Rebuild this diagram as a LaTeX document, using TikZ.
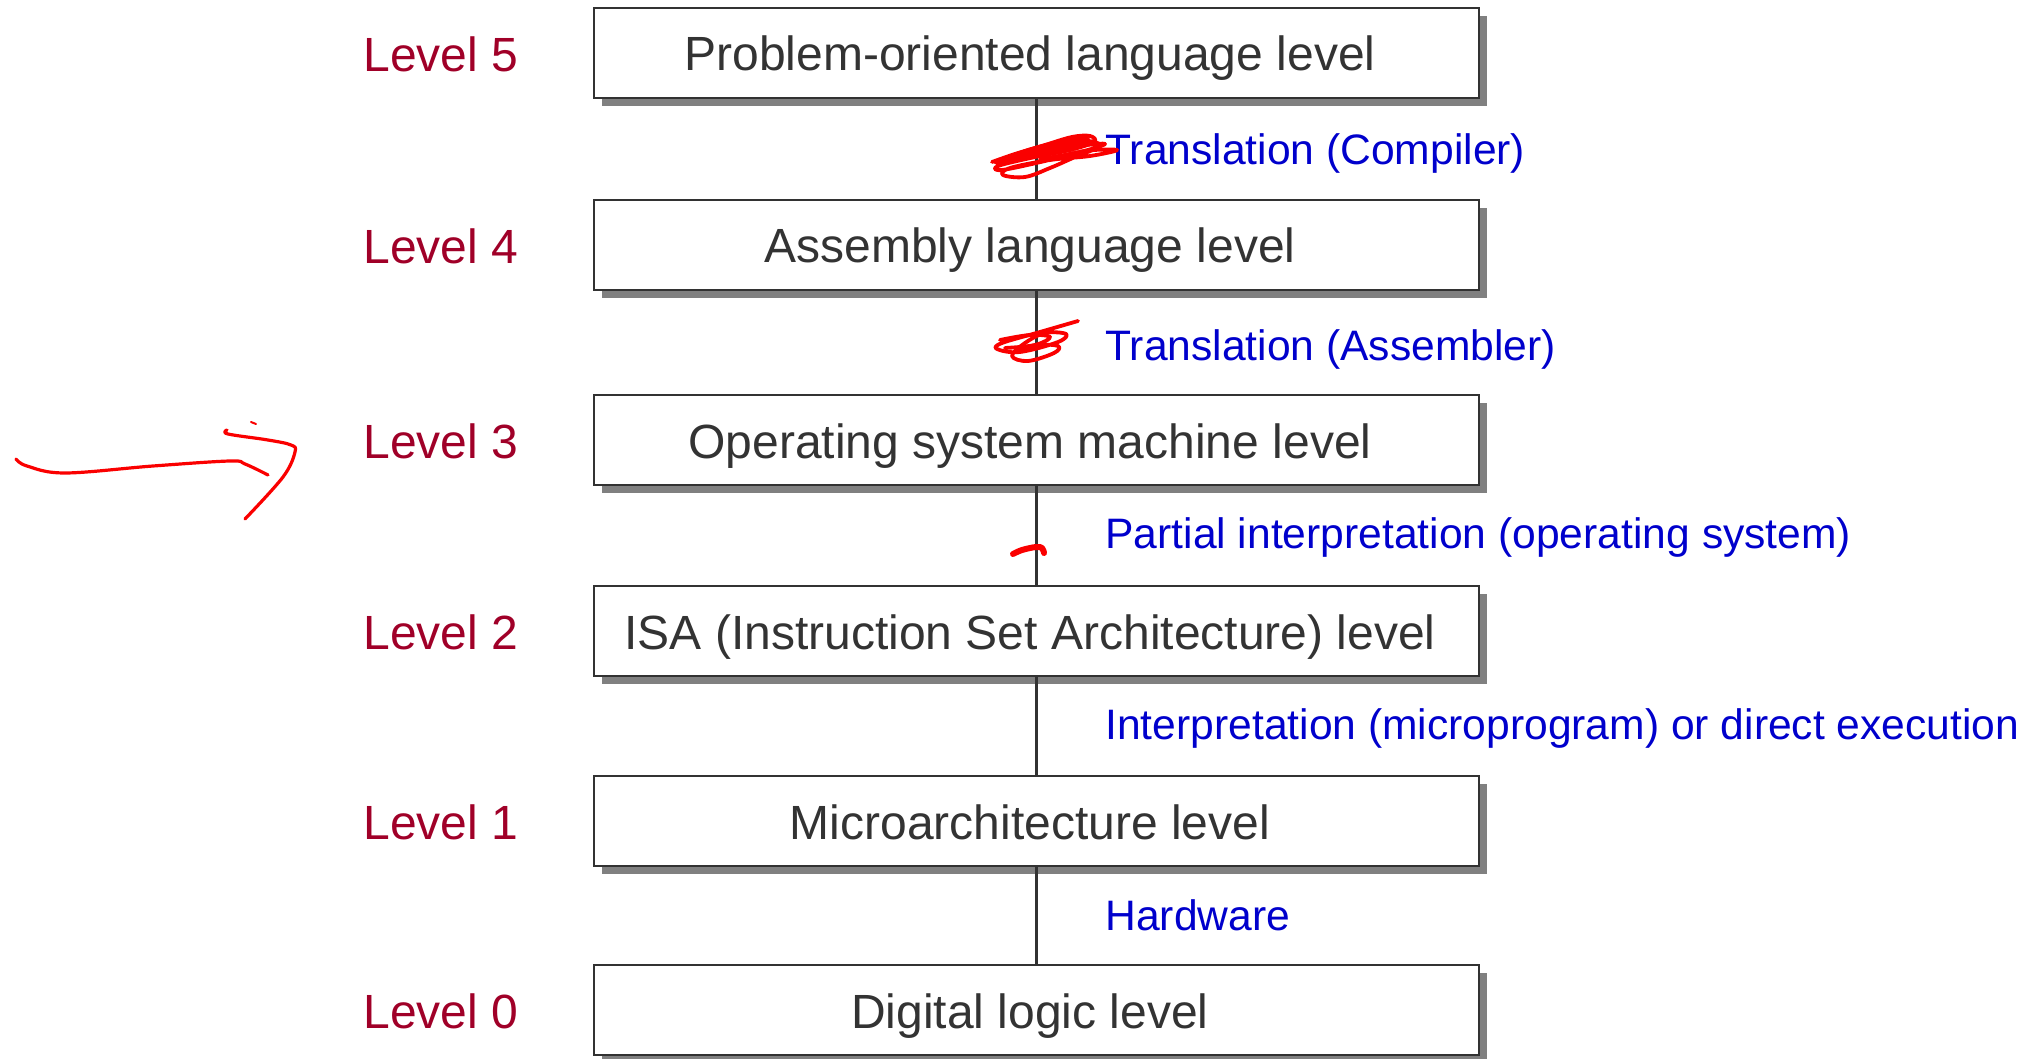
\documentclass[tikz,border=0pt]{standalone}
\usepackage{fontspec}
\setmainfont{Liberation Sans}
\usetikzlibrary{shadows}
\definecolor{lvlred}{RGB}{160,0,40}
\definecolor{xlblue}{RGB}{0,0,204}
\definecolor{boxtext}{RGB}{51,51,51}
\definecolor{boxline}{RGB}{50,50,50}
\definecolor{shade}{RGB}{128,128,128}
\definecolor{pen}{RGB}{250,0,0}
\begin{document}
\begin{tikzpicture}[x=0.5pt,y=-0.5pt,
  levelbox/.style={draw=boxline, line width=1.4pt, fill=white,
    minimum width=442.5pt, minimum height=45pt, inner sep=0pt,
    text height=18pt, text depth=0pt,
    execute at begin node={\hspace*{-6.5pt}},
    font=\fontsize{24}{28}\selectfont, text=boxtext,
    drop shadow={shadow xshift=4pt, shadow yshift=-4pt, fill=shade, opacity=1}},
  levellabel/.style={text=lvlred, font=\fontsize{24}{28}\selectfont},
  steplabel/.style={text=xlblue, font=\fontsize{21.3}{25}\selectfont, anchor=west, inner sep=0pt},
  link/.style={draw=boxline, line width=1.2pt},
  ink/.style={draw=pen, line width=1.9pt, line cap=round, line join=round}]
\useasboundingbox (0,0) rectangle (2039,1059);

% level boxes
\node[levelbox] (b5) at (1036.5,53)   {Problem-oriented language level};
\node[levelbox] (b4) at (1036.5,245)  {Assembly language level};
\node[levelbox] (b3) at (1036.5,440)  {Operating system machine level};
\node[levelbox] (b2) at (1036.5,631)  {ISA (Instruction Set Architecture) level};
\node[levelbox] (b1) at (1036.5,821)  {Microarchitecture level};
\node[levelbox] (b0) at (1036.5,1010) {Digital logic level};

% level numbers
\node[levellabel] (l5) at (441,54)   {Level 5};
\node[levellabel] (l4) at (441,246)  {Level 4};
\node[levellabel] (l3) at (441,441)  {Level 3};
\node[levellabel] (l2) at (441,632)  {Level 2};
\node[levellabel] (l1) at (441,822)  {Level 1};
\node[levellabel] (l0) at (441,1011) {Level 0};

% connectors between levels
\draw[link] (b5.south) -- (b4.north);
\draw[link] (b4.south) -- (b3.north);
\draw[link] (b3.south) -- (b2.north);
\draw[link] (b2.south) -- (b1.north);
\draw[link] (b1.south) -- (b0.north);

% how each level is supported
\node[steplabel] (s5) at (1105,153) {Translation (Compiler)};
\node[steplabel] (s4) at (1105,349) {Translation (Assembler)};
\node[steplabel] (s3) at (1105,537) {Partial interpretation (operating system)};
\node[steplabel] (s2) at (1105,728) {Interpretation (microprogram) or direct execution};
\node[steplabel] (s1) at (1105,915) {Hardware};

% hand-drawn marks
\draw[ink] plot[smooth, tension=0.6] coordinates {(992,162) (1015,154) (1045,145) (1072,137) (1090,136) (1094,142) (1070,150) (1035,157) (998,166) (1002,170) (1045,161) (1085,151) (1117,150) (1090,156) (1050,160) (1010,168) (1003,175) (1025,177) (1050,168) (1075,157) (1100,146) (1085,141) (1050,147) (1010,158) (996,163)};
\draw[ink] plot[smooth, tension=0.6] coordinates {(1000,160) (1040,150) (1080,141) (1070,146) (1030,155) (1005,163)};
\draw[ink] plot[smooth, tension=0.6] coordinates {(1005,158) (1035,148) (1065,141) (1088,139) (1075,145) (1045,152) (1012,160) (1040,155) (1080,146) (1105,144) (1080,152) (1040,159)};
\draw[ink] plot[smooth, tension=0.6] coordinates {(1078,321) (1040,332) (1002,343) (997,349) (1020,352) (1058,342) (1066,334) (1045,333) (1025,343) (1012,356) (1028,361) (1054,353) (1058,346) (1036,345) (1018,351)};
\draw[ink] plot[smooth, tension=0.6] coordinates {(1000,340) (1030,335) (1050,337) (1035,345) (1005,348)};
\draw[ink, line width=3pt] plot[smooth, tension=0.6] coordinates {(1013,554) (1022,550) (1036,547) (1042,548) (1044,553)};
\draw[ink, line width=1.6pt] plot[smooth, tension=0.6] coordinates {(16,459) (27,466) (65,473) (153,466) (230,461) (245,464) (268,475)};
\draw[ink, line width=1.6pt] plot[smooth, tension=0.6] coordinates {(227,430) (228,434) (268,440) (291,445) (295,452) (283,477) (245,519)};
\draw[ink, line width=1pt] (251,422) -- (256,424);
\end{tikzpicture}
\end{document}
